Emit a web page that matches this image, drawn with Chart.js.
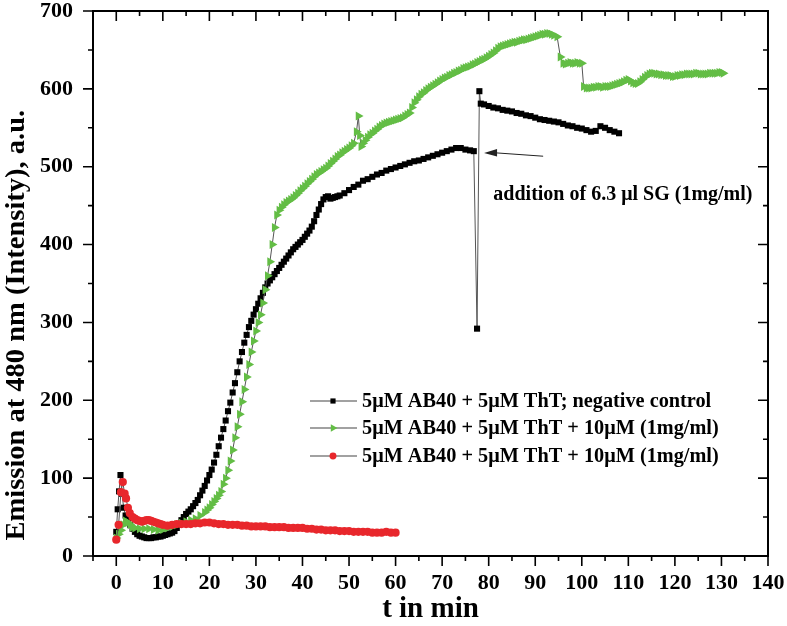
<!DOCTYPE html>
<html>
<head>
<meta charset="utf-8">
<script src="https://cdn.jsdelivr.net/npm/chart.js@4.4.1/dist/chart.umd.min.js"></script>
<style>
html,body{margin:0;padding:0;background:#fff;}
canvas{display:block;}
</style>
</head>
<body>
<canvas id="c" width="787" height="626"></canvas>
<script>
// ---- data ----
const seriesLabels = [
  "5\u03bcM AB40 + 5\u03bcM ThT; negative control",
  "5\u03bcM AB40 + 5\u03bcM ThT + 10\u03bcM (1mg/ml)",
  "5\u03bcM AB40 + 5\u03bcM ThT + 10\u03bcM (1mg/ml)"
];
const xTickValues = [0,10,20,30,40,50,60,70,80,90,100,110,120,130,140];
const yTickValues = [0,100,200,300,400,500,600,700];
const xAxisTitle = 't in min';
const yAxisTitle = 'Emission at 480 nm (Intensity), a.u.';

// black squares: negative control  [time (min), emission]
const blackT = [0,0.3,0.6,0.9,1.2,1.6,2,2.5,3,3.5,4,4.5,5,5.5,6,6.5,7,7.5,8,8.5,9,9.5,10,10.5,11,11.5,12,12.5,13,13.5,14,14.5,15,15.5,16,16.5,17,17.5,18,18.5,19,19.5,20,20.5,21,21.5,22,22.5,23,23.5,24,24.5,25,25.5,26,26.5,27,27.5,28,28.5,29,29.5,30,30.5,31,31.5,32,32.5,33,33.5,34,34.5,35,35.5,36,36.5,37,37.5,38,38.5,39,39.5,40,40.5,41,41.5,42,42.5,43,43.5,44,44.5,45,45.5,46,46.5,47,47.5,48,49,50,51,52,53,54,55,56,57,58,59,60,61,62,63,64,65,66,67,68,69,70,71,72,73,74,75,76,76.8,77.5,78,78.3,79,80,81,82,83,84,85,86,87,88,89,90,91,92,93,94,95,96,97,98,99,100,101,102,103,104,105,106,107,108];
const blackV = [31,60,83,104,80,62,52,46,40,35,31,28,26,25,24,23,23,23,24,24,25,25,26,27,28,29,30,32,36,40,46,50,54,57,60,64,68,72,78,84,90,97,104,111,120,130,141,152,163,174,186,197,210,222,236,250,262,274,284,294,302,310,317,324,331,338,345,350,354,358,362,366,370,374,378,382,386,390,394,397,400,403,406,410,414,418,423,430,438,445,452,458,461,462,459,460,461,462,463,466,470,474,477,482,484,487,490,492,495,497,499,501,503,505,507,508,510,512,514,516,518,520,522,524,524,522,521,520,292,597,581,580,578,576,575,573,572,571,569,568,566,565,563,561,560,559,558,557,555,553,552,550,549,547,545,546,552,550,547,545,543];

// green triangles  [time (min), emission]
const greenPoints = [
  [0,23],[0.5,28],[1,33],[1.5,40],[2,45],[2.5,43],[3,40],[3.5,37],[4,36],[5,35],[6,35],[7,35],[8,34],[9,33],[10,34],
  [11,36],[12,38],[13,40],[14,42],[15,44],[16,46],[17,48],[18,52],[19,56],[19.5,59],[20,62],[20.5,66],[21,70],[21.5,74],
  [22,78],[22.5,83],[23,92],[23.5,100],[24,110],[24.5,122],[25,136],[25.5,152],[26,166],[26.5,182],[27,198],[27.5,214],
  [28,230],[28.5,246],[29,262],[29.5,276],[30,289],[30.5,300],[31,310],[31.5,325],[32,342],[32.5,360],[33,378],[33.5,400],
  [34,422],[34.5,438],[35,444],[35.5,448],[36,451],[36.5,454],[37,456],[37.5,458],[38,460],[38.5,463],[39,466],[39.5,469],
  [40,472],[40.5,475],[41,478],[41.5,481],[42,484],[42.5,487],[43,490],[43.5,492],[44,494],[44.5,496],[45,498],[45.5,501],
  [46,504],[46.5,507],[47,510],[47.5,513],[48,515],[48.5,518],[49,520],[49.5,522],[50,524],[50.5,527],[51,530],
  [51.6,545],[52,565],[52.3,540],[52.6,526],[53,530],[53.5,534],[54,538],[54.5,541],[55,543],[55.5,546],[56,548],[56.5,551],
  [57,553],[57.5,555],[58,556],[58.5,557],[59,558],[59.5,559],[60,560],[60.5,561],[61,562],[61.5,563],[62,565],[62.5,567],
  [63,569],[63.5,576],[64,582],[64.5,586],[65,590],[65.5,593],[66,595],[66.5,598],[67,600],[67.5,602],[68,604],[68.5,606],
  [69,608],[69.5,610],[70,612],[70.5,614],[71,615],[71.5,617],[72,618],[72.5,620],[73,621],[73.5,623],[74,624],[74.5,626],
  [75,627],[75.5,628],[76,629],[76.5,631],[77,632],[77.5,634],[78,635],[78.5,637],[79,638],[79.5,640],[80,642],[80.5,644],
  [81,646],[81.5,649],[82,652],[82.5,654],[83,655],[83.5,656],[84,657],[84.5,658],[85,659],[85.5,660],[86,660],[86.5,661],
  [87,662],[87.5,663],[88,663],[88.5,664],[89,665],[89.5,666],[90,667],[90.5,668],[91,669],[91.5,670],[92,670],[92.5,671],
  [93,671],[93.5,670],[94,669],[94.7,667],[95.4,641],[96,633],[96.5,632],[97,633],[97.5,634],[98,633],[98.5,633],[99,634],
  [99.5,633],[100,633],[100.4,603],[101,601],[101.5,601],[102,601],[102.5,602],[103,602],[103.5,603],[104,603],[104.5,602],
  [105,603],[105.5,603],[106,603],[106.5,604],[107,605],[107.5,606],[108,607],[108.5,608],[109,609],[109.5,611],[110,612],
  [110.5,610],[111,608],[111.5,607],[112,607],[112.5,609],[113,612],[113.5,615],[114,617],[114.5,619],[115,620],[115.5,620],
  [116,619],[116.5,619],[117,618],[117.5,618],[118,617],[118.5,617],[119,617],[119.5,616],[120,616],[120.5,617],[121,617],
  [121.5,618],[122,618],[122.5,619],[123,619],[123.5,619],[124,619],[124.5,620],[125,620],[125.5,619],[126,619],[126.5,619],
  [127,619],[127.5,620],[128,620],[128.5,620],[129,620],[129.5,621],[130,621],[130.4,620]
];

// red circles
const redT = [0,0.5,1,1.4,1.8,2.1,2.5,2.9,3.5,4,4.5,5,5.5,6,6.5,7,7.5,8,8.5,9,9.5,10,11,12,13,14,15,16,17,18,19,20,21,22,23,24,25,26,27,28,29,30,31,32,33,34,35,36,37,38,39,40,41,42,43,44,45,46,47,48,49,50,51,52,53,54,55,56,57,58,59,60];
const redV = [21,40,82,95,80,74,62,55,50,48,46,45,44,45,46,46,45,44,43,42,41,40,39,40,41,41,41,41,42,42,43,43,42,41,41,40,40,40,39,39,38,38,38,38,37,37,37,37,36,36,36,36,35,35,34,34,33,33,33,32,32,32,31,31,31,31,30,30,30,31,30,30];

const annotationText = "addition of 6.3 \u03bcl SG (1mg/ml)";

// ---- styles ----
const FONT = "'Liberation Serif', 'Times New Roman', serif";
const colors = ['#000000', '#63bd45', '#e8272c'];
const pointStyles = ['rect', 'triangle', 'circle'];
const pointRot = [0, 90, 0];
const pointRad = [4.3, 5.2, 4.1];

const seriesData = [
  blackT.map((t, i) => ({x: t, y: blackV[i]})),
  greenPoints.map(p => ({x: p[0], y: p[1]})),
  redT.map((t, i) => ({x: t, y: redV[i]}))
];

const datasets = seriesLabels.map((lab,i)=>({
  label: lab,
  data: seriesData[i],
  borderColor: '#555',
  borderWidth: 1,
  backgroundColor: colors[i],
  pointBackgroundColor: colors[i],
  pointBorderColor: colors[i],
  pointBorderWidth: 0,
  pointStyle: pointStyles[i],
  pointRotation: pointRot[i],
  pointRadius: pointRad[i],
  tension: 0,
  order: 3 - i
}));

const framePlugin = {
  id: 'frame',
  afterDraw(chart){
    const ctx = chart.ctx, a = chart.chartArea;
    const xs = chart.scales.x, ys = chart.scales.y;
    ctx.save();
    ctx.strokeStyle = '#000';
    ctx.lineWidth = 2;
    ctx.strokeRect(a.left, a.top, a.right - a.left, a.bottom - a.top);
    ctx.lineWidth = 1.6;
    const MAJ = 10, MIN = 5;
    ctx.beginPath();
    for (let v = -5; v <= 140; v += 5) {
      const p = xs.getPixelForValue(v);
      const L = (v % 10 === 0) ? MAJ : MIN;
      ctx.moveTo(p, a.bottom); ctx.lineTo(p, a.bottom + L);
      ctx.moveTo(p, a.top); ctx.lineTo(p, a.top + L);
    }
    for (let v = 0; v <= 700; v += 50) {
      const p = ys.getPixelForValue(v);
      const L = (v % 100 === 0) ? MAJ : MIN;
      ctx.moveTo(a.left, p); ctx.lineTo(a.left - L, p);
      ctx.moveTo(a.right, p); ctx.lineTo(a.right - L, p);
    }
    ctx.stroke();

    // y axis title, spanning the same extent as in the reference
    const yFrom = ys.getPixelForValue(20), yTo = ys.getPixelForValue(573);
    ctx.save();
    ctx.font = "bold 27px " + FONT;
    const w = ctx.measureText(yAxisTitle).width;
    ctx.translate(17, (yFrom + yTo) / 2);
    ctx.rotate(-Math.PI / 2);
    ctx.scale((yFrom - yTo) / w, 1);
    ctx.textAlign = 'center';
    ctx.textBaseline = 'middle';
    ctx.fillStyle = '#000';
    ctx.fillText(yAxisTitle, 0, 0);
    ctx.restore();

    // legend
    const rowsY = [401, 428, 456];
    ctx.font = "bold 20.3px " + FONT;
    ctx.textBaseline = 'middle';
    ctx.textAlign = 'left';
    seriesLabels.forEach((lab, i) => {
      const y = rowsY[i];
      ctx.strokeStyle = '#444';
      ctx.lineWidth = 1.2;
      ctx.beginPath(); ctx.moveTo(310, y); ctx.lineTo(357, y); ctx.stroke();
      ctx.fillStyle = colors[i];
      Chart.helpers.drawPoint(ctx, {pointStyle: pointStyles[i], rotation: pointRot[i], radius: pointRad[i] * 0.85, borderWidth: 0}, 333, y);
      ctx.fillStyle = '#000';
      ctx.fillText(lab, 362, y + 1);
    });

    // annotation arrow + text (data coordinates)
    const ax0 = xs.getPixelForValue(91.7), ay0 = ys.getPixelForValue(513.5);
    const ax1 = xs.getPixelForValue(79.0), ay1 = ys.getPixelForValue(517.5);
    ctx.strokeStyle = '#222'; ctx.fillStyle = '#222'; ctx.lineWidth = 1;
    ctx.beginPath(); ctx.moveTo(ax0, ay0); ctx.lineTo(ax1 + 8, ay1 - 0.5); ctx.stroke();
    ctx.beginPath(); ctx.moveTo(ax1, ay1); ctx.lineTo(ax1 + 13, ay1 - 4); ctx.lineTo(ax1 + 13, ay1 + 3.5); ctx.closePath(); ctx.fill();
    ctx.fillStyle = '#000';
    ctx.font = "bold 20px " + FONT;
    ctx.fillText(annotationText, xs.getPixelForValue(81.0), ys.getPixelForValue(463.5));
    ctx.restore();
  }
};

new Chart(document.getElementById('c'), {
  type: 'line',
  data: { datasets },
  plugins: [framePlugin],
  options: {
    responsive: false,
    animation: false,
    layout: { padding: { top: 11, right: 19, left: 0, bottom: 0 } },
    plugins: { legend: { display: false }, tooltip: { enabled: false } },
    scales: {
      x: {
        type: 'linear', min: -5, max: 140,
        afterBuildTicks: s => { s.ticks = xTickValues.map(v => ({value: v})); },
        afterFit: s => { s.height = 70; s.paddingLeft = 0; s.paddingRight = 0; },
        grid: { display: false, drawTicks: false },
        border: { display: false },
        ticks: { color: '#000', padding: 14, maxRotation: 0, autoSkip: false,
                 font: { family: FONT, size: 22, weight: 'bold' } },
        title: { display: true, text: xAxisTitle, color: '#000',
                 font: { family: FONT, size: 29, weight: 'bold', lineHeight: 1 },
                 padding: { top: 0, bottom: 2 } }
      },
      y: {
        type: 'linear', min: 0, max: 700,
        afterBuildTicks: s => { s.ticks = yTickValues.map(v => ({value: v})); },
        afterFit: s => { s.width = 93; s.paddingTop = 0; s.paddingBottom = 0; },
        grid: { display: false, drawTicks: false },
        border: { display: false },
        ticks: { color: '#000', padding: 20,
                 font: { family: FONT, size: 22, weight: 'bold' } }
      }
    }
  }
});
</script>
</body>
</html>
